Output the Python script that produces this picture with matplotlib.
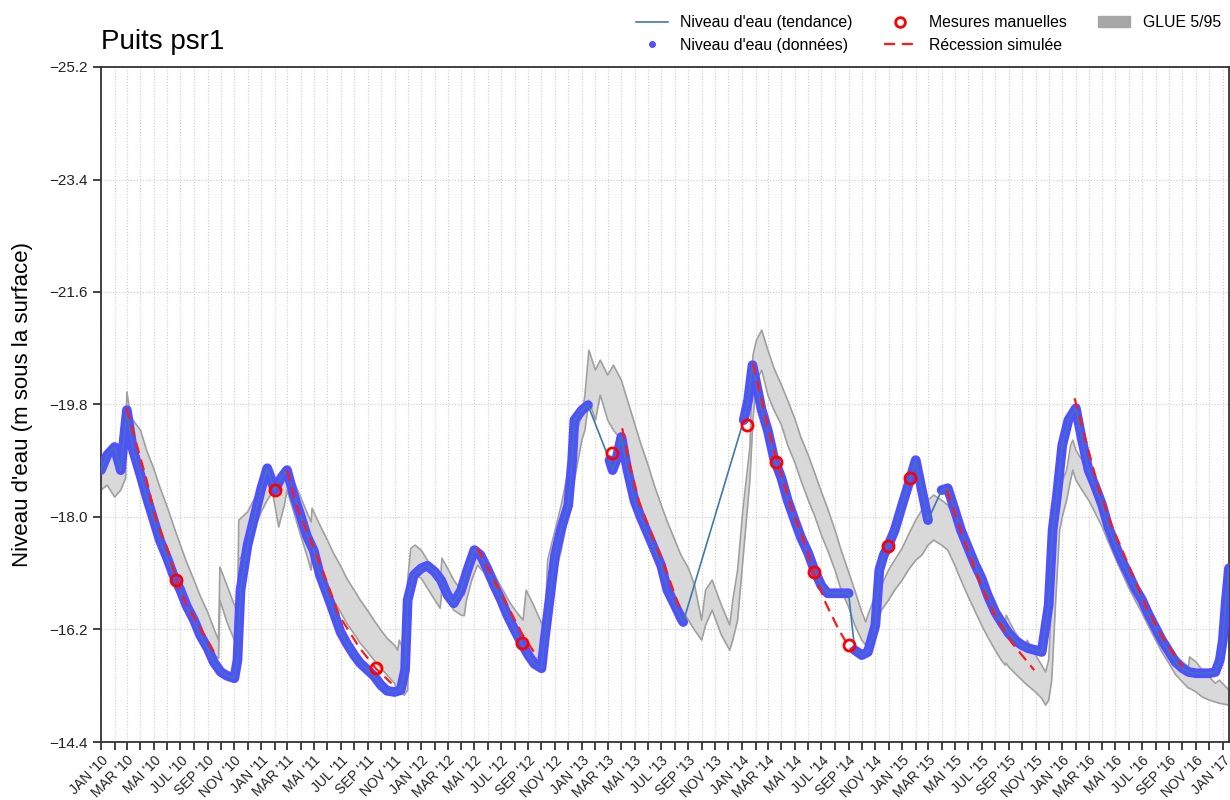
import pandas as pd
import matplotlib.pyplot as plt
import matplotlib.dates as mdates
from matplotlib.lines import Line2D
from matplotlib.patches import Patch
from matplotlib.ticker import FuncFormatter

plt.rcParams['font.family'] = ['Liberation Sans', 'DejaVu Sans']

# Niveau d'eau mesuré par le capteur (None = pas de données)
dates_niveau = [
    '2010-01-01', '2010-01-15', '2010-02-01', '2010-02-15', '2010-03-01', '2010-03-15',
    '2010-04-01', '2010-04-15', '2010-05-01', '2010-05-15', '2010-06-01', '2010-06-15',
    '2010-07-01', '2010-07-15', '2010-08-01', '2010-08-15', '2010-09-01', '2010-09-15',
    '2010-10-01', '2010-10-15', '2010-11-01', '2010-11-08', '2010-11-15', '2010-12-01',
    '2010-12-15', '2011-01-01', '2011-01-15', '2011-02-01', '2011-02-15', '2011-03-01',
    '2011-03-15', '2011-04-01', '2011-04-15', '2011-05-01', '2011-05-15', '2011-06-01',
    '2011-06-15', '2011-07-01', '2011-07-15', '2011-08-01', '2011-08-15', '2011-09-01',
    '2011-09-15', '2011-10-01', '2011-10-15', '2011-11-01', '2011-11-15', '2011-11-25',
    '2011-12-01', '2011-12-15', '2012-01-01', '2012-01-15', '2012-02-01', '2012-02-15',
    '2012-03-01', '2012-03-15', '2012-04-01', '2012-04-15', '2012-05-01', '2012-05-15',
    '2012-06-01', '2012-06-15', '2012-07-01', '2012-07-15', '2012-08-01', '2012-08-15',
    '2012-09-01', '2012-09-15', '2012-10-01', '2012-10-08', '2012-11-01', '2012-11-15',
    '2012-12-01', '2012-12-10', '2012-12-15', '2013-01-01', '2013-01-15', '2013-02-01',
    '2013-03-05', '2013-03-12', '2013-03-20', '2013-04-01', '2013-04-15', '2013-05-01',
    '2013-05-15', '2013-06-01', '2013-06-15', '2013-07-01', '2013-07-15', '2013-08-01',
    '2013-08-15', '2013-08-20', '2013-10-15', '2014-01-05', '2014-01-15', '2014-01-25',
    '2014-02-01', '2014-02-15', '2014-03-01', '2014-03-15', '2014-04-01', '2014-04-15',
    '2014-05-01', '2014-05-15', '2014-06-01', '2014-06-15', '2014-07-01', '2014-07-15',
    '2014-08-01', '2014-08-15', '2014-09-01', '2014-09-08', '2014-09-15', '2014-10-01',
    '2014-10-15', '2014-11-01', '2014-11-10', '2014-11-20', '2014-12-01', '2014-12-15',
    '2015-01-01', '2015-01-15', '2015-02-01', '2015-02-15', '2015-03-01', '2015-03-15',
    '2015-04-01', '2015-04-15', '2015-05-01', '2015-05-15', '2015-06-01', '2015-06-15',
    '2015-07-01', '2015-07-15', '2015-08-01', '2015-08-15', '2015-09-01', '2015-09-15',
    '2015-10-01', '2015-10-15', '2015-11-01', '2015-11-15', '2015-12-01', '2015-12-10',
    '2015-12-20', '2016-01-01', '2016-01-15', '2016-02-01', '2016-02-15', '2016-03-01',
    '2016-03-15', '2016-04-01', '2016-04-15', '2016-05-01', '2016-05-15', '2016-06-01',
    '2016-06-15', '2016-07-01', '2016-07-15', '2016-08-01', '2016-08-15', '2016-09-01',
    '2016-09-15', '2016-10-01', '2016-10-15', '2016-11-01', '2016-11-15', '2016-12-01',
    '2016-12-15', '2016-12-25', '2017-01-01', '2017-01-08', '2017-01-15',
]
niveau = [
    -18.75, -18.99, -19.12, -18.75, -19.71, -19.07,
    -18.67, -18.32, -17.95, -17.63, -17.34, -17.07,
    -16.83, -16.58, -16.35, -16.11, -15.90, -15.68,
    -15.52, -15.46, -15.42, -15.71, -16.83, -17.55,
    -17.95, -18.45, -18.78, -18.43, -18.62, -18.75,
    -18.38, -18.02, -17.70, -17.46, -17.07, -16.75,
    -16.48, -16.16, -15.98, -15.79, -15.66, -15.55,
    -15.46, -15.31, -15.22, -15.20, -15.23, -15.55,
    -16.67, -17.07, -17.18, -17.22, -17.12, -16.99,
    -16.75, -16.62, -16.83, -17.15, -17.47, -17.39,
    -17.15, -16.91, -16.67, -16.43, -16.19, -16.00,
    -15.79, -15.65, -15.58, -16.03, -17.39, -17.82,
    -18.19, -18.91, -19.55, -19.71, -19.79, None,
    -18.91, -18.75, -18.90, -19.28, -18.75, -18.26,
    -18.00, -17.72, -17.49, -17.22, -16.83, -16.59,
    -16.38, -16.32, None, -19.55, -19.87, -20.43,
    -20.19, -19.71, -19.38, -18.94, -18.62, -18.27,
    -17.95, -17.68, -17.42, -17.15, -16.90, -16.78,
    -16.78, -16.78, -16.78, None, -15.87, -15.79,
    -15.84, -16.27, -17.15, -17.39, -17.55, -17.79,
    -18.19, -18.51, -18.91, -18.43, -17.95, None,
    -18.43, -18.46, -18.11, -17.79, -17.50, -17.26,
    -17.02, -16.75, -16.48, -16.32, -16.14, -16.03,
    -15.95, -15.90, -15.87, -15.84, -16.59, -17.79,
    -18.35, -19.15, -19.55, -19.74, -19.23, -18.75,
    -18.51, -18.19, -17.84, -17.55, -17.31, -17.07,
    -16.86, -16.67, -16.45, -16.22, -16.03, -15.84,
    -15.68, -15.58, -15.52, -15.50, -15.50, -15.50,
    -15.52, -15.71, -16.03, -16.67, -17.18,
]

# Mesures manuelles
dates_manuelles = [
    '2010-06-20', '2011-02-02', '2011-09-19', '2012-08-17', '2013-03-11', '2014-01-12',
    '2014-03-19', '2014-06-14', '2014-09-03', '2014-11-29', '2015-01-18',
]
mesures_manuelles = [
    -16.99, -18.43, -15.58, -15.98, -19.02, -19.47,
    -18.88, -17.12, -15.95, -17.54, -18.62,
]

# Récessions simulées, une courbe par année
dates_recession = [
    ['2010-02-28', '2010-03-14', '2010-04-15', '2010-05-07', '2010-06-01', '2010-06-22',
     '2010-07-15', '2010-08-14', '2010-09-22'],
    ['2011-03-01', '2011-03-22', '2011-04-14', '2011-05-20', '2011-06-28', '2011-08-13',
     '2011-09-19', '2011-10-25'],
    ['2012-05-08', '2012-06-05', '2012-07-09', '2012-08-17', '2012-09-22'],
    ['2013-04-03', '2013-04-19', '2013-05-12', '2013-06-10', '2013-07-12', '2013-08-11'],
    ['2014-01-26', '2014-02-25', '2014-03-19', '2014-04-25', '2014-05-27', '2014-06-14',
     '2014-07-11', '2014-08-10', '2014-09-09'],
    ['2015-04-13', '2015-05-21', '2015-06-25', '2015-08-03', '2015-09-09', '2015-10-29'],
    ['2016-01-29', '2016-02-25', '2016-03-25', '2016-04-24', '2016-06-02', '2016-07-10',
     '2016-08-16', '2016-10-01'],
]
niveau_recession = [
    [-19.74, -19.39, -18.59, -17.95, -17.50, -16.99, -16.59, -16.24, -15.76],
    [-18.75, -18.19, -17.79, -17.17, -16.42, -15.91, -15.58, -15.34],
    [-17.50, -17.12, -16.67, -16.14, -15.75],
    [-19.42, -18.87, -18.23, -17.71, -17.15, -16.56],
    [-20.46, -19.55, -18.96, -18.11, -17.52, -17.10, -16.62, -16.19, -15.84],
    [-18.43, -17.66, -16.99, -16.40, -15.98, -15.55],
    [-19.90, -19.19, -18.43, -17.84, -17.20, -16.56, -16.08, -15.60],
]

# Bande d'incertitude GLUE (bornes 5 % et 95 %)
dates_glue = [
    '2010-01-01', '2010-01-15', '2010-02-01', '2010-02-15', '2010-02-26', '2010-03-01',
    '2010-03-09', '2010-03-15', '2010-04-01', '2010-04-15', '2010-05-01', '2010-05-15',
    '2010-06-01', '2010-06-15', '2010-07-01', '2010-07-15', '2010-08-01', '2010-08-15',
    '2010-09-01', '2010-09-15', '2010-09-26', '2010-09-29', '2010-10-15', '2010-11-01',
    '2010-11-08', '2010-11-11', '2010-12-01', '2010-12-15', '2011-01-01', '2011-01-15',
    '2011-01-27', '2011-02-10', '2011-02-23', '2011-03-01', '2011-03-15', '2011-04-01',
    '2011-04-15', '2011-04-25', '2011-04-27', '2011-05-01', '2011-05-15', '2011-06-01',
    '2011-06-15', '2011-07-01', '2011-07-15', '2011-08-01', '2011-08-15', '2011-09-01',
    '2011-09-15', '2011-10-01', '2011-10-15', '2011-11-01', '2011-11-08', '2011-11-12',
    '2011-11-23', '2011-12-01', '2011-12-08', '2011-12-18', '2012-01-01', '2012-01-15',
    '2012-02-01', '2012-02-13', '2012-02-17', '2012-03-01', '2012-03-15', '2012-04-01',
    '2012-04-08', '2012-04-13', '2012-04-25', '2012-05-08', '2012-05-22', '2012-06-05',
    '2012-06-20', '2012-07-05', '2012-07-20', '2012-08-05', '2012-08-20', '2012-08-27',
    '2012-09-13', '2012-09-28', '2012-10-08', '2012-10-15', '2012-11-01', '2012-11-15',
    '2012-12-01', '2012-12-15', '2013-01-01', '2013-01-08', '2013-01-17', '2013-02-01',
    '2013-02-12', '2013-03-01', '2013-03-14', '2013-04-01', '2013-04-15', '2013-05-01',
    '2013-05-15', '2013-06-01', '2013-06-15', '2013-07-01', '2013-07-15', '2013-08-01',
    '2013-08-15', '2013-09-01', '2013-09-15', '2013-10-01', '2013-10-10', '2013-10-25',
    '2013-11-15', '2013-12-04', '2013-12-11', '2013-12-22', '2014-01-03', '2014-01-19',
    '2014-01-26', '2014-02-03', '2014-02-15', '2014-03-01', '2014-03-15', '2014-04-01',
    '2014-04-15', '2014-05-01', '2014-05-15', '2014-06-01', '2014-06-15', '2014-07-01',
    '2014-07-15', '2014-08-01', '2014-08-15', '2014-09-01', '2014-09-15', '2014-10-01',
    '2014-10-10', '2014-10-15', '2014-11-01', '2014-11-15', '2014-12-01', '2014-12-15',
    '2015-01-01', '2015-01-15', '2015-02-01', '2015-02-15', '2015-03-01', '2015-03-14',
    '2015-04-01', '2015-04-15', '2015-05-01', '2015-05-15', '2015-06-01', '2015-06-15',
    '2015-07-01', '2015-07-15', '2015-08-01', '2015-08-15', '2015-08-24', '2015-08-26',
    '2015-09-01', '2015-09-15', '2015-10-01', '2015-10-10', '2015-10-13', '2015-11-01',
    '2015-11-15', '2015-11-24', '2015-12-01', '2015-12-08', '2015-12-17', '2015-12-26',
    '2016-01-02', '2016-01-11', '2016-01-20', '2016-01-25', '2016-02-01', '2016-02-15',
    '2016-03-01', '2016-03-15', '2016-04-01', '2016-04-15', '2016-05-01', '2016-05-15',
    '2016-06-01', '2016-06-15', '2016-07-01', '2016-07-15', '2016-08-01', '2016-08-15',
    '2016-09-01', '2016-09-15', '2016-10-01', '2016-10-15', '2016-10-17', '2016-11-01',
    '2016-11-15', '2016-12-01', '2016-12-15', '2016-12-24', '2017-01-15',
]
glue_haut = [
    -18.88, -18.99, -19.04, -18.91, -19.23, -20.00,
    -19.63, -19.55, -19.39, -19.07, -18.78, -18.48,
    -18.16, -17.87, -17.55, -17.28, -16.99, -16.74,
    -16.48, -16.22, -16.03, -17.20, -16.91, -16.59,
    -16.48, -17.95, -18.08, -18.27, -18.51, -18.62,
    -18.75, -18.43, -18.67, -18.78, -18.59, -18.32,
    -18.08, -17.92, -18.14, -18.08, -17.87, -17.63,
    -17.42, -17.22, -17.02, -16.83, -16.67, -16.50,
    -16.35, -16.19, -16.06, -15.95, -15.87, -16.03,
    -15.84, -16.99, -17.50, -17.55, -17.47, -17.31,
    -17.07, -16.91, -17.34, -17.18, -16.99, -16.83,
    -16.75, -17.23, -17.39, -17.50, -17.39, -17.23,
    -17.02, -16.83, -16.64, -16.48, -16.35, -16.83,
    -16.59, -16.35, -16.19, -17.31, -17.79, -18.19,
    -18.75, -19.23, -19.63, -19.95, -20.67, -20.35,
    -20.51, -20.27, -20.43, -20.19, -19.87, -19.50,
    -19.18, -18.83, -18.51, -18.19, -17.92, -17.63,
    -17.39, -17.18, -16.91, -16.35, -16.83, -16.99,
    -16.59, -16.27, -16.67, -17.15, -18.11, -19.12,
    -20.59, -20.83, -20.99, -20.67, -20.38, -20.11,
    -19.87, -19.58, -19.28, -18.99, -18.72, -18.40,
    -18.14, -17.79, -17.47, -17.12, -16.83, -16.48,
    -16.32, -16.43, -16.75, -16.91, -17.15, -17.31,
    -17.50, -17.71, -17.95, -18.11, -18.27, -18.35,
    -18.27, -18.19, -17.98, -17.76, -17.50, -17.28,
    -17.02, -16.80, -16.56, -16.35, -16.24, -16.43,
    -16.35, -16.16, -16.00, -15.90, -16.03, -15.79,
    -15.63, -15.52, -15.71, -16.67, -17.79, -18.19,
    -18.59, -18.75, -19.15, -19.23, -19.07, -18.91,
    -18.67, -18.43, -18.19, -17.92, -17.63, -17.39,
    -17.15, -16.94, -16.74, -16.51, -16.30, -16.11,
    -15.95, -15.79, -15.68, -15.60, -15.76, -15.68,
    -15.55, -15.44, -15.34, -15.39, -15.23,
]
glue_bas = [
    -18.43, -18.51, -18.32, -18.43, -18.62, -19.23,
    -19.36, -19.23, -18.75, -18.40, -18.03, -17.71,
    -17.42, -17.15, -16.86, -16.62, -16.38, -16.16,
    -15.95, -15.79, -15.74, -16.67, -16.32, -16.03,
    -15.95, -17.31, -17.50, -17.79, -18.08, -18.27,
    -18.40, -17.84, -18.19, -18.43, -18.11, -17.71,
    -17.39, -17.15, -17.44, -17.39, -17.12, -16.86,
    -16.67, -16.48, -16.30, -16.13, -15.98, -15.84,
    -15.71, -15.58, -15.47, -15.34, -15.23, -15.20,
    -15.15, -15.23, -16.67, -17.07, -17.02, -16.86,
    -16.67, -16.54, -16.83, -16.67, -16.51, -16.43,
    -16.42, -16.67, -16.99, -17.23, -17.12, -16.91,
    -16.70, -16.48, -16.27, -16.03, -15.84, -15.79,
    -15.68, -15.63, -15.63, -16.03, -17.07, -17.47,
    -18.03, -18.59, -19.23, -19.39, -19.87, -19.55,
    -19.95, -19.55, -19.39, -19.23, -18.88, -18.48,
    -18.19, -17.87, -17.55, -17.26, -17.02, -16.75,
    -16.54, -16.35, -16.19, -16.03, -16.27, -16.51,
    -16.11, -15.87, -16.03, -16.35, -17.31, -18.59,
    -19.55, -20.19, -20.35, -19.95, -19.71, -19.47,
    -19.15, -18.88, -18.59, -18.27, -18.03, -17.71,
    -17.47, -17.15, -16.83, -16.56, -16.27, -16.03,
    -15.95, -16.03, -16.27, -16.51, -16.67, -16.83,
    -16.99, -17.15, -17.31, -17.39, -17.55, -17.63,
    -17.55, -17.47, -17.23, -16.99, -16.72, -16.51,
    -16.27, -16.08, -15.87, -15.71, -15.63, -15.66,
    -15.60, -15.50, -15.39, -15.33, -15.31, -15.20,
    -15.10, -14.99, -15.07, -15.39, -16.67, -17.79,
    -18.03, -18.27, -18.59, -18.75, -18.59, -18.43,
    -18.27, -18.08, -17.84, -17.60, -17.34, -17.12,
    -16.86, -16.67, -16.46, -16.26, -16.03, -15.84,
    -15.65, -15.48, -15.36, -15.26, -15.26, -15.20,
    -15.12, -15.07, -15.04, -15.02, -14.99,
]

mois = {1: 'JAN', 3: 'MAR', 5: 'MAI', 7: 'JUL', 9: 'SEP', 11: 'NOV'}

couleur_donnees = '#5050ff'
couleur_tendance = '#3d78b0'
couleur_glue = '#d9d9d9'
couleur_bord_glue = '#a0a0a0'


def etiquette_mois(x, pos):
    d = mdates.num2date(x)
    return f"{mois.get(d.month, '')} '{d.year % 100:02d}"


if __name__ == "__main__":
    serie = pd.Series(niveau, index=pd.to_datetime(dates_niveau), dtype=float)
    tendance = serie.dropna()
    dg = pd.to_datetime(dates_glue)

    fig = plt.figure(figsize=(12.3, 8), dpi=100)
    ax = fig.add_axes([101 / 1230, 58 / 800, 1128 / 1230, 675 / 800])

    # Bande GLUE
    ax.fill_between(dg, glue_haut, glue_bas, color=couleur_glue, lw=0, zorder=1)
    ax.plot(dg, glue_haut, color=couleur_bord_glue, lw=1.2, zorder=2)
    ax.plot(dg, glue_bas, color=couleur_bord_glue, lw=1.2, zorder=2)

    # Données du capteur et tendance
    ax.plot(serie.index, serie.values, color=couleur_donnees, lw=7,
            solid_capstyle='round', solid_joinstyle='round', zorder=3)
    ax.plot(tendance.index, tendance.values, color=couleur_tendance, lw=1.2, zorder=4)

    # Récessions simulées
    for dr, nr in zip(dates_recession, niveau_recession):
        ax.plot(pd.to_datetime(dr), nr, color='#ff1a1a', lw=1.6, ls='--',
                dashes=(5, 3), zorder=5)

    # Mesures manuelles
    ax.plot(pd.to_datetime(dates_manuelles), mesures_manuelles, ls='', marker='o',
            ms=8, mfc='none', mec='red', mew=2, zorder=6)

    ax.set_xlim(pd.Timestamp('2010-01-01'), pd.Timestamp('2017-01-15'))
    ax.set_ylim(-14.4, -25.2)
    ax.set_yticks([-25.2, -23.4, -21.6, -19.8, -18.0, -16.2, -14.4])
    ax.yaxis.set_major_formatter(FuncFormatter(lambda v, pos: f"{v:.1f}".replace('-', '\u2212')))

    ax.xaxis.set_major_locator(mdates.MonthLocator(bymonth=[1, 3, 5, 7, 9, 11]))
    ax.xaxis.set_minor_locator(mdates.MonthLocator(bymonth=[2, 4, 6, 8, 10, 12]))
    ax.xaxis.set_major_formatter(FuncFormatter(etiquette_mois))
    for lab in ax.get_xticklabels():
        lab.set_rotation(45)
        lab.set_ha('right')
        lab.set_rotation_mode('anchor')

    ax.tick_params(axis='both', which='both', direction='out', length=6, width=1.2,
                   labelsize=11, colors='#222222')
    ax.tick_params(axis='x', which='major', labelsize=10, pad=2)

    ax.grid(True, axis='x', which='both', ls=':', color='#cccccc', lw=0.8)
    ax.grid(True, axis='y', which='major', ls=':', color='#cccccc', lw=0.8)
    ax.set_axisbelow(True)
    for sp in ax.spines.values():
        sp.set_linewidth(1.3)
        sp.set_color('#333333')

    ax.set_title('Puits psr1', loc='left', fontsize=20, pad=13)
    ax.set_ylabel("Niveau d'eau (m sous la surface)", fontsize=16, labelpad=12)

    poignees = [
        Line2D([], [], color=couleur_tendance, lw=1.2, label="Niveau d'eau (tendance)"),
        Line2D([], [], ls='', marker='o', ms=4, color=couleur_donnees,
               label="Niveau d'eau (données)"),
        Line2D([], [], ls='', marker='o', ms=7, mfc='none', mec='red', mew=2,
               label='Mesures manuelles'),
        Line2D([], [], color='#ff1a1a', lw=1.6, ls='--', dashes=(5, 3),
               label='Récession simulée'),
        Patch(color='#a6a6a6', label='GLUE 5/95'),
    ]
    fig.legend(handles=poignees, ncol=3, loc='upper right', bbox_to_anchor=(1.004, 0.999),
               frameon=False, fontsize=11.4)

    fig.savefig('out.png', dpi=100)
